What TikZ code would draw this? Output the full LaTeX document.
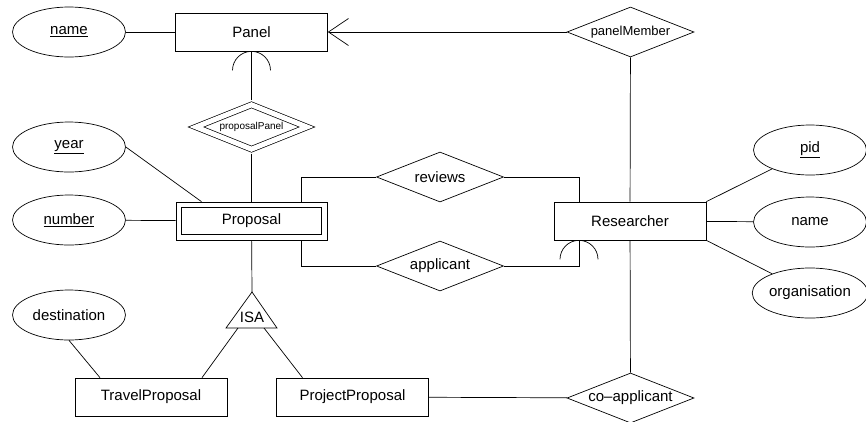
\documentclass[tikz,border=0pt]{standalone}
\usepackage{fontspec}
\setmainfont{Liberation Sans}
\usepackage{tikz}
\usetikzlibrary{shapes.geometric,arrows.meta}

\begin{document}
\begin{tikzpicture}[x=1pt, y=-1pt, line width=0.7pt,
  font=\fontsize{15}{18}\selectfont,
  entity/.style={draw, rectangle, inner sep=0pt, minimum width=152pt, minimum height=38pt},
  attrib/.style={draw, ellipse, inner sep=0pt, minimum width=113pt, minimum height=50pt},
  relation/.style={draw, diamond, aspect=2.54, inner sep=0pt, minimum width=127pt, minimum height=50pt},
  weakrelation/.style={draw, diamond, aspect=2.41, double, double distance=5pt, inner sep=0pt,
    outer sep=3.2pt, minimum width=113.5pt, minimum height=47pt}]

\useasboundingbox (0,0) rectangle (866,421);

% Entities
\node[entity] (panel) at (251.5,32) {Panel};
\node[entity, minimum width=151pt] (proposal) at (251.5,221) {Proposal};
\draw ([shift={(6pt,-6pt)}]proposal.north west) rectangle ([shift={(-6pt,6pt)}]proposal.south east);
\node[entity] (researcher) at (630,221) {Researcher};
\node[entity] (travel) at (151,397) {TravelProposal};
\node[entity] (project) at (352.5,397) {ProjectProposal};

% Attributes
\node[attrib] (pname) at (69,32) {\underline{name}};
\node[attrib] (year) at (69,147) {\underline{year}};
\node[attrib] (number) at (69,220) {\underline{number}};
\node[attrib] (destination) at (69,315) {destination};
\node[attrib] (pid) at (810,150) {\underline{pid}};
\node[attrib] (rname) at (810,222) {name};
\node[attrib] (organisation) at (810,293) {organisation};

% Relationships
\node[relation, font=\fontsize{13}{15}\selectfont] (panelMember) at (630.5,32) {panelMember};
\node[weakrelation, font=\fontsize{10}{12}\selectfont] (proposalPanel) at (251.5,127) {proposalPanel};
\node[relation] (reviews) at (440,177) {reviews};
\node[relation] (applicant) at (440,266) {applicant};
\node[relation] (coapplicant) at (630.5,398) {co--applicant};

% ISA triangle
\coordinate (isaTop) at (252,292);
\coordinate (isaBL) at (238,328);
\coordinate (isaBR) at (264,328);
\draw (isaTop) -- (226,328) -- (277,328) -- cycle;
\node (isa) at (252,317) {ISA};

% Connections
\draw (pname) -- (panel);
\draw[-{Straight Barb[length=20pt, width=27pt]}] (panelMember) -- (panel);
\draw (panel) -- (proposalPanel);
\draw (proposalPanel) -- (proposal);
\draw (year.east) -- ([xshift=-50pt]proposal.north);
\draw (number) -- (proposal);
\draw ([xshift=50pt]proposal.north) |- (reviews.west);
\draw (reviews.east) -| ([xshift=-51pt]researcher.north);
\draw ([xshift=50pt]proposal.south) |- (applicant.west);
\draw (applicant.east) -| ([xshift=-51pt]researcher.south);
\draw (panelMember) -- (researcher);
\draw (researcher) -- (coapplicant);
\draw (researcher.north east) -- (pid);
\draw (researcher) -- (rname);
\draw (researcher.south east) -- (organisation);
\draw (proposal) -- (isaTop);
\draw (isaBL) -- ([xshift=51pt]travel.north);
\draw (isaBR) -- ([xshift=-50pt]project.north);
\draw (destination.south) -- ([xshift=-51pt]travel.north);
\draw (project) -- (coapplicant);

% Participation arcs
\draw ([xshift=-19pt,yshift=-19pt]panel.south) arc[start angle=180, end angle=0, radius=19pt];
\draw ([xshift=-70pt,yshift=-19pt]researcher.south) arc[start angle=180, end angle=0, radius=19pt];

\end{tikzpicture}
\end{document}
